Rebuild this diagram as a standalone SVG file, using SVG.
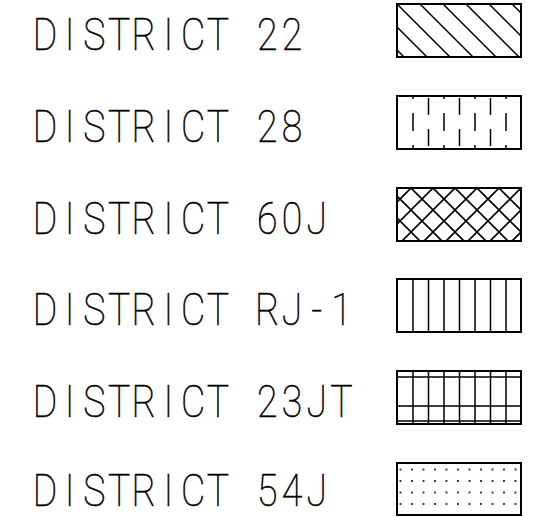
<svg xmlns="http://www.w3.org/2000/svg" width="546" height="517" viewBox="0 0 546 517">
<style>
.lbl{font-family:Roboto,"DejaVu Sans","Liberation Sans",sans-serif;font-weight:100;font-size:44px;fill:#000;stroke:#000;stroke-width:0.6;text-anchor:middle;}
.box{fill:none;stroke:#000;stroke-width:2;}
.ln{stroke:#000;stroke-width:1.5;fill:none;}
</style>
<defs>
<pattern id="diag" patternUnits="userSpaceOnUse" x="393" y="0" width="23" height="23">
<path d="M0,0 L23,23 M-2,21 L2,25 M21,-2 L25,2" stroke="#000" stroke-width="1.5" fill="none"/>
</pattern>
<pattern id="cross" patternUnits="userSpaceOnUse" x="411" y="188" width="22" height="22">
<path d="M-1,-1 L23,23 M23,-1 L-1,23" stroke="#000" stroke-width="1.6" fill="none"/>
</pattern>
<pattern id="dots" patternUnits="userSpaceOnUse" x="406.25" y="463.75" width="11.5" height="11.5">
<circle cx="5.75" cy="5.75" r="1" fill="#000"/>
</pattern>
</defs>
<rect width="546" height="517" fill="#fff"/>

<g id="row-22">
<text class="lbl" transform="scale(0.85,1)" y="50" x="52.94 82.0 111.06 140.12 169.18 198.24 227.29 256.35 285.41 314.47 343.53">DISTRICT 22</text>
<rect x="397" y="4" width="124" height="53" fill="url(#diag)"/>
<rect class="box" x="397" y="4" width="124" height="53"/>
</g>

<g id="row-28">
<text class="lbl" transform="scale(0.85,1)" y="142" x="52.94 82.0 111.06 140.12 169.18 198.24 227.29 256.35 285.41 314.47 343.53">DISTRICT 28</text>
<path class="ln" d="M413,96 V99 M413,113 V131 M413,145 V149 M444,96 V99 M444,113 V131 M444,145 V149 M475,96 V99 M475,113 V131 M475,145 V149 M506,96 V99 M506,113 V131 M506,145 V149 M428.5,98 V115 M428.5,129 V146 M459.5,98 V115 M459.5,129 V146 M490.5,98 V115 M490.5,129 V146"/>
<rect class="box" x="397" y="96" width="124" height="53"/>
</g>

<g id="row-60J">
<text class="lbl" transform="scale(0.85,1)" y="234" x="52.94 82.0 111.06 140.12 169.18 198.24 227.29 256.35 285.41 314.47 343.53 372.59">DISTRICT 60J</text>
<rect x="397" y="188" width="124" height="53" fill="url(#cross)"/>
<rect class="box" x="397" y="188" width="124" height="53"/>
</g>

<g id="row-RJ-1">
<text class="lbl" transform="scale(0.85,1)" y="325" x="52.94 82.0 111.06 140.12 169.18 198.24 227.29 256.35 285.41 314.47 343.53 372.59 401.65">DISTRICT RJ-1</text>
<path class="ln" d="M413,279 V332 M428.5,279 V332 M444,279 V332 M459.5,279 V332 M475,279 V332 M490.5,279 V332 M506,279 V332"/>
<rect class="box" x="397" y="279" width="124" height="53"/>
</g>

<g id="row-23JT">
<text class="lbl" transform="scale(0.85,1)" y="417" x="52.94 82.0 111.06 140.12 169.18 198.24 227.29 256.35 285.41 314.47 343.53 372.59 401.65">DISTRICT 23JT</text>
<path class="ln" d="M413,371 V424 M428.5,371 V424 M444,371 V424 M459.5,371 V424 M475,371 V424 M490.5,371 V424 M506,371 V424 M397,377 H521 M397,406 H521 M397,421 H521"/>
<rect class="box" x="397" y="371" width="124" height="53"/>
</g>

<g id="row-54J">
<text class="lbl" transform="scale(0.85,1)" y="506" x="52.94 82.0 111.06 140.12 169.18 198.24 227.29 256.35 285.41 314.47 343.53 372.59">DISTRICT 54J</text>
<rect x="397" y="463" width="124" height="52" fill="url(#dots)"/>
<rect class="box" x="397" y="463" width="124" height="52"/>
</g>
</svg>
